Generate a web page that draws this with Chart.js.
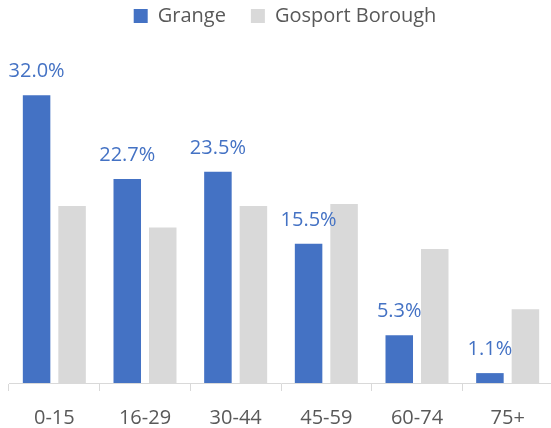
<!DOCTYPE html>
<html>
<head>
<meta charset="utf-8">
<script src="https://cdn.jsdelivr.net/npm/chart.js@4.4.1/dist/chart.umd.min.js"></script>
<style>
  html, body { margin: 0; padding: 0; background: #ffffff; overflow: hidden; }
  #chart { display: block; }
</style>
</head>
<body>
<canvas id="chart" width="570" height="428"></canvas>
<script>
const ageBands = ["0-15", "16-29", "30-44", "45-59", "60-74", "75+"]
const grange = [32.0, 22.7, 23.5, 15.5, 5.3, 1.1]
const gosport = [19.7, 17.3, 19.7, 19.9, 14.9, 8.2]
const seriesNames = ["Grange", "Gosport Borough"]

const FONT = "'Open Sans', sans-serif"
const TEXT = "#595959"
const BLUE = "#4472C4"
const GREY = "#D9D9D9"

// values above the Grange bars
const barLabels = {
  id: "barLabels",
  afterDatasetsDraw(chart) {
    const ctx = chart.ctx
    const meta = chart.getDatasetMeta(0)
    ctx.save()
    ctx.font = "20px " + FONT
    ctx.fillStyle = BLUE
    ctx.textAlign = "center"
    ctx.textBaseline = "alphabetic"
    meta.data.forEach((bar, i) => {
      ctx.fillText(grange[i].toFixed(1) + "%", bar.x, bar.y - 18)
    })
    ctx.restore()
  }
}

// nudge the legend a little to the right, like the original
const legendShift = {
  id: "legendShift",
  afterLayout(chart) {
    if (!chart.legend) return
    chart.legend.left += 4
    chart.legend.right += 4
  }
}

new Chart(document.getElementById("chart").getContext("2d"), {
  type: "bar",

  data: {
    labels: ageBands,
    datasets: [
      { label: seriesNames[0], data: grange, backgroundColor: BLUE },
      { label: seriesNames[1], data: gosport, backgroundColor: GREY }
    ]
  },

  options: {
    responsive: false,
    animation: false,
    categoryPercentage: 0.783,
    barPercentage: 0.775,

    layout: {
      padding: { left: 9, right: 17, top: -19, bottom: -17 }
    },

    plugins: {
      legend: {
        position: "top",
        labels: {
          boxWidth: 14,
          boxHeight: 14,
          padding: 25,
          color: TEXT,
          font: { family: FONT, size: 20 }
        }
      },
      tooltip: { enabled: false }
    },

    scales: {
      x: {
        grid: {
          drawOnChartArea: false,
          color: GREY,
          tickLength: 8
        },
        border: { color: GREY, width: 1 },
        ticks: {
          color: TEXT,
          padding: 15,
          font: { family: FONT, size: 20 }
        }
      },
      y: {
        display: false,
        min: 0,
        max: 38.6
      }
    }
  },

  plugins: [barLabels, legendShift]
})
</script>
</body>
</html>
